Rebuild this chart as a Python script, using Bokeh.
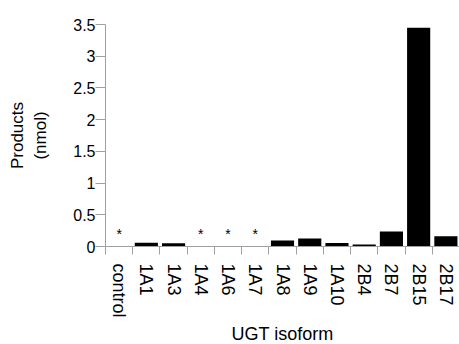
from bokeh.plotting import figure
from bokeh.models import FixedTicker, CustomJSTickFormatter, Range1d, ColumnDataSource, Title
from bokeh.core.properties import value
from bokeh.embed import file_html
from bokeh.resources import INLINE

categories = ["control", "1A1", "1A3", "1A4", "1A6", "1A7", "1A8", "1A9",
              "1A10", "2B4", "2B7", "2B15", "2B17"]
products = [0.0, 0.06, 0.05, 0.0, 0.0, 0.0, 0.095, 0.125, 0.055, 0.03, 0.235, 3.45, 0.16]
not_detected = ["control", "1A4", "1A6", "1A7"]
y_ticks = [0, 0.5, 1, 1.5, 2, 2.5, 3, 3.5]

FONT = "Liberation Sans"
AXIS_GRAY = "#a0a0a0"

n = len(categories)
centers = [i + 0.5 for i in range(n)]
bounds = [float(i) for i in range(n + 1)]

p = figure(width=459, height=344, output_backend="svg", toolbar_location=None,
           x_range=Range1d(0, n), y_range=Range1d(0, 3.5),
           min_border_left=105, min_border_right=0, min_border_top=24, min_border_bottom=97)
p.outline_line_color = None
p.xgrid.visible = False
p.ygrid.visible = False
p.background_fill_color = "white"

src = ColumnDataSource(dict(x=centers, top=products))
p.vbar(x="x", top="top", bottom=0, width=0.85, source=src, fill_color="black", line_color=None)

ast_x = [categories.index(c) + 0.5 for c in not_detected]
p.text(x=ast_x, y=[0.19] * len(ast_x), text=["*"] * len(ast_x), text_align="center",
       text_baseline="alphabetic", text_font=value(FONT), text_font_size="14px", text_color="black")

# x axis
xa = p.xaxis[0]
xa.ticker = FixedTicker(ticks=centers, minor_ticks=bounds)
xa.formatter = CustomJSTickFormatter(args=dict(names=categories),
                                     code="const i = Math.floor(tick); return (i >= 0 && i < names.length) ? names[i] : '';")
xa.major_label_orientation = "vertical"
xa.major_tick_in = 0
xa.major_tick_out = 0
xa.minor_tick_in = 0
xa.minor_tick_out = 8
xa.minor_tick_line_color = AXIS_GRAY
xa.axis_line_color = AXIS_GRAY
xa.major_label_standoff = 9
xa.major_label_text_font = FONT
xa.major_label_text_font_size = "18px"
xa.major_label_text_color = "black"

p.add_layout(Title(text="UGT isoform", align="center", offset=8, standoff=2,
                   text_font=FONT, text_font_size="18px", text_font_style="normal",
                   text_color="black"), "below")

# y axis
ya = p.yaxis[0]
ya.ticker = FixedTicker(ticks=y_ticks, minor_ticks=[])
ya.formatter = CustomJSTickFormatter(code="return tick.toString();")
ya.major_tick_in = 0
ya.major_tick_out = 10
ya.major_tick_line_color = AXIS_GRAY
ya.axis_line_color = AXIS_GRAY
ya.major_label_standoff = 0
ya.major_label_text_font = FONT
ya.major_label_text_font_size = "16px"
ya.major_label_text_color = "black"
ya.axis_label = "Products\n(nmol)"
ya.axis_label_text_font = FONT
ya.axis_label_text_font_size = "17px"
ya.axis_label_text_font_style = "normal"
ya.axis_label_text_color = "black"
ya.axis_label_standoff = 20

open("out.html", "w").write(file_html(p, INLINE))
